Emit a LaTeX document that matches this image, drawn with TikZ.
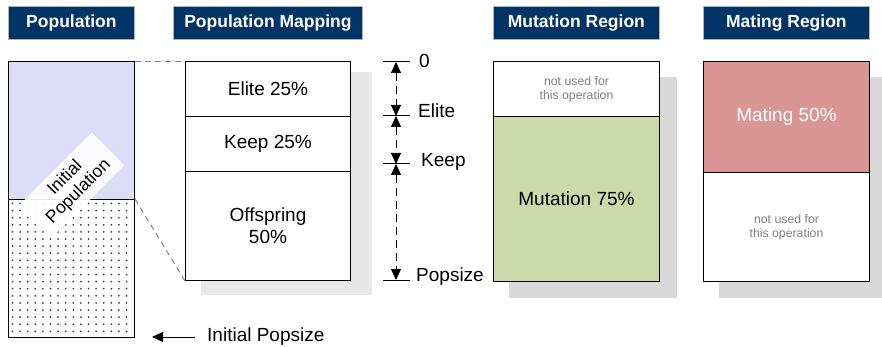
\documentclass[tikz,border=0pt]{standalone}
\usepackage{fontspec}
\setmainfont{Liberation Sans}
\usetikzlibrary{arrows.meta}
\definecolor{hdrblue}{RGB}{0,51,102}
\definecolor{lavender}{RGB}{221,221,250}
\definecolor{mutgreen}{RGB}{204,218,170}
\definecolor{materose}{RGB}{217,150,148}
\definecolor{shadowA}{RGB}{232,232,232}
\definecolor{shadowB}{RGB}{217,217,217}
\definecolor{notegray}{RGB}{128,128,128}
\begin{document}
\begin{tikzpicture}[x=1pt,y=-1pt,
  header/.style={draw=gray!60, line width=0.8pt, fill=hdrblue, text=white,
    font=\fontsize{17.5}{20}\selectfont\bfseries, minimum height=33pt,
    inner sep=0pt, anchor=north west},
  cell/.style={draw=black, line width=1pt, inner sep=0pt, anchor=north west,
    align=center, font=\fontsize{19}{22}\selectfont},
  note/.style={text=notegray, align=center, inner sep=0pt,
    font=\fontsize{12.3}{14}\selectfont},
  dimlabel/.style={anchor=west, inner sep=0pt, font=\fontsize{19}{22}\selectfont},
  tickline/.style={line width=1pt},
  dimtip/.tip={Triangle[length=11pt,width=10pt]},
  dimarrow/.style={line width=1pt, dash pattern=on 8pt off 5pt, dimtip-dimtip},
  zoomline/.style={draw=gray, line width=0.9pt, dash pattern=on 6pt off 4pt}]
\useasboundingbox (0,0) rectangle (882,347);

% column headers
\node[header, minimum width=126pt] (hpop) at (8,6) {Population};
\node[header, minimum width=189pt] (hmap) at (173,6) {Population Mapping};
\node[header, minimum width=166pt] (hmut) at (493,6) {Mutation Region};
\node[header, minimum width=166pt] (hmat) at (703,6) {Mating Region};

% population column
\node[cell, fill=lavender, minimum width=126pt, minimum height=138pt] (popgrow) at (8,61) {};
\node[cell, fill=white, minimum width=126pt, minimum height=138pt] (popinit) at (8,199) {};
\foreach \i in {0,...,15} {
  \foreach \j in {0,...,18} {
    \fill[black!75] (12.5+7.6*\i, 203.5+7.1*\j) circle (1pt);
  }
}
\node[cell, minimum width=126pt, minimum height=138pt] at (8,199) {};
\node[fill=white, fill opacity=0.92, text opacity=1, rotate=45, minimum width=102pt,
  minimum height=46pt, inner sep=0pt, align=center,
  font=\fontsize{17.5}{19}\selectfont] (initlbl) at (72,185) {Initial\\Population};

% population mapping column
\fill[shadowA] (201,72) rectangle (372,295);
\node[cell, fill=white, minimum width=165pt, minimum height=55pt] (elite) at (185,61) {Elite 25\%};
\node[cell, fill=white, minimum width=165pt, minimum height=55pt] (keep) at (185,116) {Keep 25\%};
\node[cell, fill=white, minimum width=165pt, minimum height=109pt] (offs) at (185,171) {Offspring\\50\%};

% dashed zoom lines
\draw[zoomline] (popgrow.north east) -- (elite.north west);
\draw[zoomline] (popinit.north east) -- (offs.south west);

% dimension scale
\coordinate (t0) at (396,62);
\coordinate (t1) at (396,116);
\coordinate (t2) at (396,164);
\coordinate (t3) at (396,280);
\foreach \t in {t0,t1,t2,t3} {
  \draw[tickline] ([xshift=-13pt]\t) -- ([xshift=14pt]\t);
}
\draw[dimarrow] (t0) -- (t1);
\draw[dimarrow] (t1) -- (t2);
\draw[dimarrow] (t2) -- (t3);
\node[dimlabel] (l0) at (419,61) {0};
\node[dimlabel] (l1) at (418,111) {Elite};
\node[dimlabel] (l2) at (421,162) {Keep};
\node[dimlabel] (l3) at (416,277) {Popsize};

% mutation column
\fill[shadowB] (509,77) rectangle (677,298);
\node[cell, fill=white, minimum width=166pt, minimum height=55pt] (mutfree) at (493,61) {};
\node[note] at (mutfree.center) {not used for\\this operation};
\node[cell, fill=mutgreen, minimum width=166pt, minimum height=165pt] (mut) at (493,116) {Mutation 75\%};

% mating column
\fill[shadowB] (719,77) rectangle (882,298);
\node[cell, fill=materose, text=white, minimum width=166pt, minimum height=111pt] (mate) at (703,61) {Mating 50\%};
\node[cell, fill=white, minimum width=166pt, minimum height=109pt] (matfree) at (703,172) {};
\node[note] at (matfree.center) {not used for\\this operation};

% initial population size marker
\node[dimlabel] (ips) at (207,337) {Initial Popsize};
\coordinate (ipsend) at (152,337);
\draw[line width=1pt, -{Triangle[length=11pt,width=10pt]}] ([xshift=-12pt]ips.west) -- (ipsend);
\end{tikzpicture}
\end{document}
